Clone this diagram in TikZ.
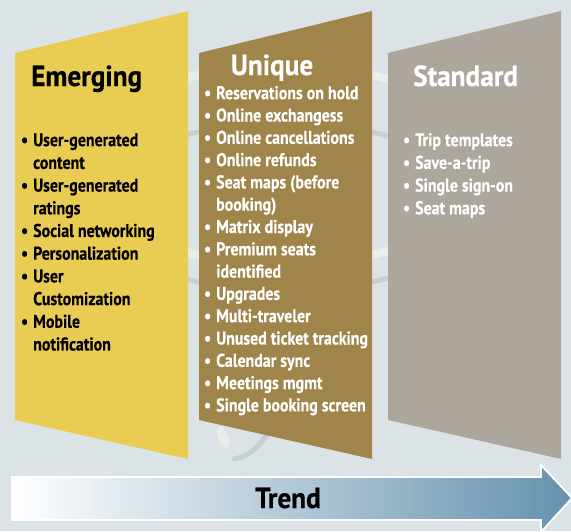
\documentclass[tikz,border=0pt]{standalone}
\usepackage{fontspec}
\setmainfont{PT Sans}
\newfontfamily\headfont{PT Sans}[FakeStretch=0.94, FakeBold=0.4]
\newfontfamily\itemfont{PT Sans}[FakeStretch=0.86, FakeBold=0.3]
\usetikzlibrary{positioning}

\definecolor{bgcol}{HTML}{DCE3E7}
\definecolor{emergcol}{HTML}{E9CC52}
\definecolor{uniqcol}{HTML}{A0854A}
\definecolor{stdcol}{HTML}{ADA69C}
\definecolor{trendcol}{HTML}{6592AE}
\definecolor{ringlight}{HTML}{E9EEEA}
\definecolor{ringdark}{HTML}{C8CED1}

% bullet hanging left of the line
\newcommand\bul{\leavevmode\strut\llap{\textbullet\hskip 5pt}}

\begin{document}
\begin{tikzpicture}[
 x=1pt, y=-1pt,
 heading/.style={font=\headfont\fontsize{29}{32}\selectfont\bfseries, inner sep=0pt},
 items/.style={font=\itemfont\fontsize{18.5}{#1}\selectfont\bfseries, align=left, inner sep=0pt, anchor=north west},
 items/.default=22.7
]
\useasboundingbox (0,0) rectangle (571,531);
\fill[bgcol] (0,0) rectangle (571,531);

% faint globe behind the panels
\draw[ringlight, line width=8pt] (285,165) ellipse [x radius=200, y radius=100];
\draw[ringdark, line width=5pt] (285,207) ellipse [x radius=200, y radius=83];
\fill[ringlight, rotate around={20:(223,437)}] (223,437) ellipse [x radius=5, y radius=11];
\draw[ringdark, line width=5pt, line cap=round] (275,420) .. controls (262,448) and (245,458) .. (234,459);

% the three panels
\foreach \l/\c in {15/emergcol, 199/uniqcol, 388/stdcol}
  \fill[\c] (\l,53) -- ++(173,-42) -- ++(0,448) -- ++(-173,-39) -- cycle;

\node[heading, anchor=base west] (emerging) at (31,86) {Emerging};
\node[heading, anchor=base, text=white] (unique) at (272,75) {Unique};
\node[heading, anchor=base west, text=white] (standard) at (413,86) {Standard};

\node[items] (emerglist) at (33,130.1) {
 \bul User-generated\\ content\\
 \bul User-generated\\ ratings\\
 \bul Social networking\\
 \bul Personalization\\
 \bul User\\ Customization\\
 \bul Mobile\\ notification};

\node[items=22.3, text=white] (uniqlist) at (216,83.4) {
 \bul Reservations on hold\\
 \bul Online exchangess\\
 \bul Online cancellations\\
 \bul Online refunds\\
 \bul Seat maps (before\\ booking)\\
 \bul Matrix display\\
 \bul Premium seats\\ identified\\
 \bul Upgrades\\
 \bul Multi-traveler\\
 \bul Unused ticket tracking\\
 \bul Calendar sync\\
 \bul Meetings mgmt\\
 \bul Single booking screen};

\node[items, text=white] (stdlist) at (415,130.1) {
 \bul Trip templates\\
 \bul Save-a-trip\\
 \bul Single sign-on\\
 \bul Seat maps};

% trend arrow
\shadedraw[left color=white, right color=trendcol, draw=white, line width=1.8pt]
 (12,477) -- (541,477) -- (541,465) -- (572,498) -- (541,532) -- (541,520) -- (12,520) -- cycle;
\node[heading, anchor=base] (trend) at (288,508) {Trend};
\end{tikzpicture}
\end{document}
